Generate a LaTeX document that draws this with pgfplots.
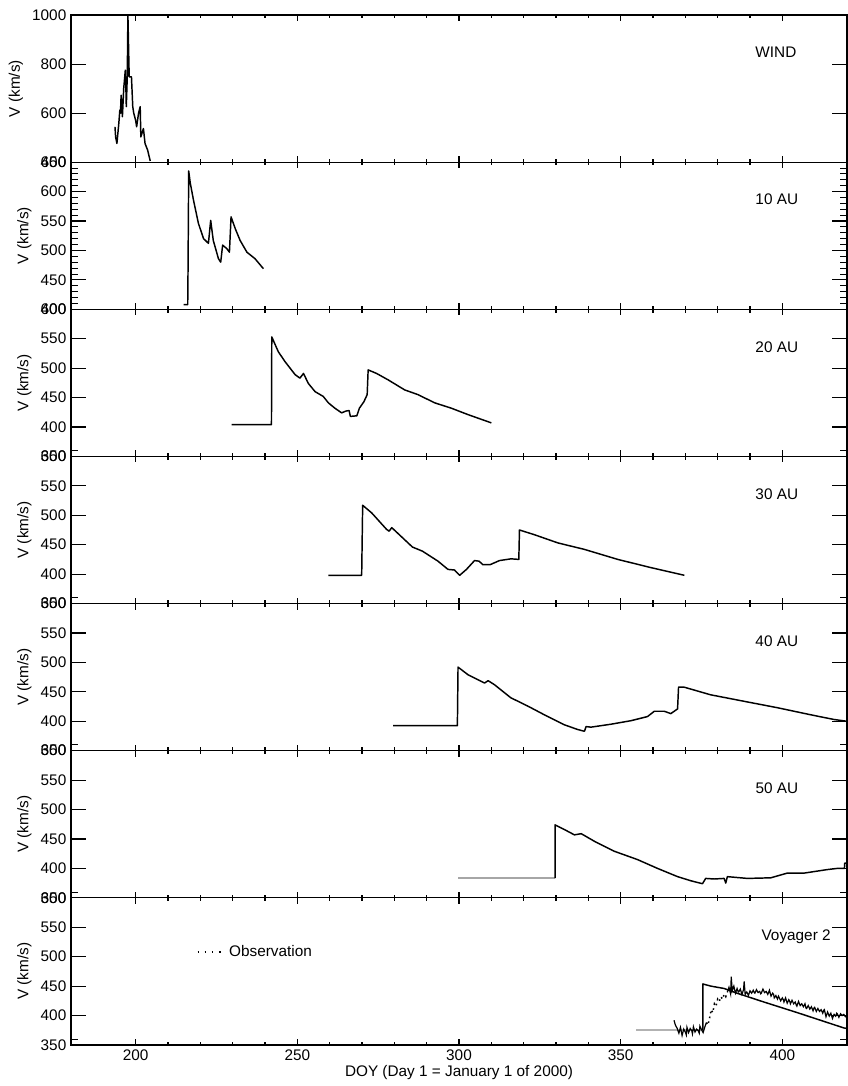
\documentclass[border=0pt]{standalone}
\usepackage{fontspec}
\setmainfont{Liberation Sans}
\usepackage{pgfplots}
\pgfplotsset{compat=1.18}
\newcommand{\fs}{\fontsize{11.5}{13.8}\selectfont}
\newcommand{\yt}[2]{%
 \pgfplotsinvokeforeach{#1}{\draw[line width=0.8pt] (axis cs:180,##1) -- ++(11pt,0pt); \draw[line width=0.8pt] (axis cs:420,##1) -- ++(-11pt,0pt);}%
 \pgfplotsinvokeforeach{#2}{\draw[line width=0.6pt] (axis cs:180,##1) -- ++(5.5pt,0pt); \draw[line width=0.6pt] (axis cs:420,##1) -- ++(-5pt,0pt);}%
}
\newcommand{\stdminor}{360,370,380,390,410,420,430,440,460,470,480,490,510,520,530,540,560,570,580,590}
\pgfplotsset{
 base/.style={
  scale only axis, width=582pt, height=110.36pt,
  xmin=180, xmax=420,
  tick align=inside,
  axis line style={line width=0.9pt},
  every tick/.style={line width=0.8pt, black},
  ticklabel style={font=\fs},
  /pgf/number format/assume math mode=true,
  /pgf/number format/1000 sep={},
  label style={font=\fs},
  anchor=north west,
 },
 data/.style={base, hide axis},
 yover/.style={base, xtick=\empty, clip=false,
  major tick length=11pt, minor tick length=5.5pt,
  ylabel={V (km/s)}},
 xover/.style={base, ymin=0, ymax=1, ytick=\empty,
  xtick={200,250,300,350,400}, minor x tick num=4,
  major tick length=4.5pt, minor tick length=2.5pt, xticklabels={}},
 std/.style={ymin=350, ymax=600, ytick={350,400,450,500,550,600}},
 ln/.style={black, line width=1.1pt, line join=round, mark=none},
}
\begin{document}
\begin{tikzpicture}
\useasboundingbox (0,0) rectangle (636pt,814.5pt);

% ---------- WIND
\begin{axis}[data, at={(53.25pt,803.25pt)}, ymin=400, ymax=1000]
\addplot[ln] coordinates {(193.6,544) (193.8,503) (194.2,476) (194.8,560) (195.1,612) (195.3,600) (195.5,673) (195.9,585) (196.3,700) (196.8,775) (197.0,690) (197.1,626) (197.4,748) (197.6,1000) (198.0,748) (198.7,748) (199.1,626) (199.4,600) (199.7,585) (200.0,570) (200.3,544) (200.9,600) (201.4,626) (201.6,503) (202.4,537) (202.9,476) (203.7,449) (204.5,405)};
\node[anchor=west, font=\fs] at (rel axis cs:0.876,0.745) {WIND};
\end{axis}
\begin{axis}[yover, at={(53.25pt,803.25pt)}, ymin=400, ymax=1000, ytick={400,600,800,1000}]
\yt{600,800}{}
\end{axis}
\begin{axis}[xover, at={(53.25pt,803.25pt)}]\end{axis}

% ---------- 10 AU
\begin{axis}[data, at={(53.25pt,692.9pt)}, ymin=400, ymax=650]
\addplot[ln] coordinates {(214.8,408) (216.1,408) (216.2,470) (216.4,635) (216.9,614) (217.9,585) (219.4,546) (221,520) (222.5,512) (223.2,551) (224,517) (225.6,486) (226.3,480) (226.9,509) (228.2,503) (229,497) (229.5,557) (230.8,537) (232.3,517) (234.4,497) (236.9,486) (239.5,469)};
\node[anchor=west, font=\fs] at (rel axis cs:0.876,0.745) {10 AU};
\end{axis}
\begin{axis}[yover, at={(53.25pt,692.9pt)}, ymin=400, ymax=650, ytick={400,450,500,550,600,650}]
\yt{450,500,550,600}{410,420,430,440,460,470,480,490,510,520,530,540,560,570,580,590,610,620,630,640}
\end{axis}
\begin{axis}[xover, at={(53.25pt,692.9pt)}]\end{axis}

% ---------- 20 AU
\begin{axis}[data, std, at={(53.25pt,582.54pt)}]
\addplot[ln] coordinates {(229.7,404) (242,404) (242.1,553) (244.1,528) (246.2,511) (249.3,489) (250.8,483) (251.9,491) (253.4,474) (255.5,460) (258,452) (259.6,441) (261.6,432) (263.7,424) (265,427) (266,428) (266.4,418) (268.4,419) (269.2,432) (270.6,443) (271.6,455) (271.9,497) (274.5,491) (278.1,480) (283.2,463) (287.3,455) (292.5,441) (297.6,432) (302.8,421) (310,407)};
\node[anchor=west, font=\fs] at (rel axis cs:0.876,0.745) {20 AU};
\end{axis}
\begin{axis}[yover, std, at={(53.25pt,582.54pt)}]
\yt{400,450,500,550}{\stdminor}
\end{axis}
\begin{axis}[xover, at={(53.25pt,582.54pt)}]\end{axis}

% ---------- 30 AU
\begin{axis}[data, std, at={(53.25pt,472.19pt)}]
\addplot[ln] coordinates {(259.6,398) (269.9,398) (270.2,517) (273,504) (277.6,476) (278.4,473) (279.2,479) (282.5,462) (285.6,446) (288.7,439) (293.5,422) (296.6,408) (298.6,407) (300.2,398) (302.3,408) (304.8,423) (306.2,422) (307.4,416) (309.6,416) (312.5,423) (316.1,426) (318.5,425) (318.7,475) (323.3,467) (330.6,453) (338.8,442) (349.1,425) (359.4,411) (369.7,398)};
\node[anchor=west, font=\fs] at (rel axis cs:0.876,0.745) {30 AU};
\end{axis}
\begin{axis}[yover, std, at={(53.25pt,472.19pt)}]
\yt{400,450,500,550}{\stdminor}
\end{axis}
\begin{axis}[xover, at={(53.25pt,472.19pt)}]\end{axis}

% ---------- 40 AU
\begin{axis}[data, std, at={(53.25pt,361.83pt)}]
\addplot[ln] coordinates {(279.6,392.5) (299.5,392.5) (299.7,492) (302.8,479) (307.9,465) (309,469) (311,462) (316,440) (321.2,426) (326.4,411) (332.6,394) (336.7,386) (338.8,383) (339.3,391) (340.8,390) (347,395) (353.2,401) (358.3,408) (360.4,417) (363.5,417) (365.5,413) (367.6,421) (367.9,458) (369.6,458) (377.8,445) (388.1,434) (398.5,423) (408.8,411) (416,403) (420,400)};
\node[anchor=west, font=\fs] at (rel axis cs:0.876,0.745) {40 AU};
\end{axis}
\begin{axis}[yover, std, at={(53.25pt,361.83pt)}]
\yt{400,450,500,550}{\stdminor}
\end{axis}
\begin{axis}[xover, at={(53.25pt,361.83pt)}]\end{axis}

% ---------- 50 AU
\begin{axis}[data, std, at={(53.25pt,251.48pt)}]
\addplot[gray!70, line width=1.4pt] coordinates {(299.7,383.5) (329.7,383.5)};
\addplot[ln] coordinates {(329.7,383.5) (329.7,474) (332.6,466) (335.7,457) (337.8,459) (341.9,446) (348.1,429) (355.2,415) (361.4,400) (367.6,386) (371.7,379) (375.3,374) (376.3,383) (378.9,382) (382,383) (382.5,375) (383,386) (389.2,383) (396.4,384) (401.5,392) (406.7,392) (413.9,398) (417,400) (419.2,400) (419.3,409) (420,409)};
\node[anchor=west, font=\fs] at (rel axis cs:0.876,0.745) {50 AU};
\end{axis}
\begin{axis}[yover, std, at={(53.25pt,251.48pt)}]
\yt{400,450,500,550}{\stdminor}
\end{axis}
\begin{axis}[xover, at={(53.25pt,251.48pt)}]\end{axis}

% ---------- Voyager 2
\begin{axis}[data, std, at={(53.25pt,141.12pt)},
  legend style={at={(0.160,0.633)}, anchor=west, draw=none, fill=none, font=\fs, inner sep=1pt},
  legend cell align=left]
\addplot[gray!60, line width=2pt, forget plot] coordinates {(354.8,375.5) (375.4,375.5)};
\addplot[ln, forget plot] coordinates {(375.4,375.5) (375.4,453.7) (377.9,450) (382,446) (386,438) (394.3,423) (404.6,405) (419,379) (420,378)};
% observation
\addplot[black, line width=0.9pt, forget plot] coordinates {(366.5,392) (366.8,386) (367,383) (367.5,378) (368,370) (368.3,376) (368.5,380) (369,366) (369.5,377) (370,372) (370.3,367) (370.5,380) (371,371) (371.5,378) (372,374) (372.2,369) (372.5,381) (373,372) (373.5,377) (374,374) (374.3,370) (374.5,382) (375,376) (375.5,371) (376,380) (376.5,388)};
\addplot[black, line width=1.1pt, dash pattern=on 1.2pt off 2.5pt,
  legend image code/.code={\draw[line width=1.3pt, dash pattern=on 1.3pt off 4pt] (0pt,0pt) -- (21pt,0pt);}]
  coordinates {(376.5,388) (377,384) (377.5,396) (378,410) (378.5,405) (379,420) (379.5,416) (380,428) (380.5,424) (381,432) (381.5,428) (382,436) (382.5,432) (383,440)};
\addlegendentry{Observation}
\addplot[black, line width=0.9pt, forget plot] coordinates {(383,440) (383.5,448) (384,437) (384.2,466) (384.5,442) (385,450) (385.5,438) (386,446) (386.3,441) (386.5,440) (387,445) (387.5,436) (388,444) (388.2,458) (388.5,436) (389,440) (389.3,437) (389.5,434) (390,442) (390.5,438) (391,443) (391.3,439) (391.5,438) (392,444) (392.5,439) (393,441) (393.3,437) (393.5,438) (394,445) (394.5,439) (395,441) (395.5,436) (395.8,440) (396,443) (396.5,433) (397,438) (397.3,436) (397.5,430) (398,434) (398.5,428) (398.8,433) (399,431) (399.5,425) (400,430) (400.3,427) (400.5,423) (401,430) (401.5,421) (402,427) (402.3,424) (402.5,420) (403,426) (403.5,420) (404,423) (404.3,418) (404.5,416) (405,424) (405.5,417) (406,420) (406.5,415) (407,420) (407.3,413) (407.5,412) (408,417) (408.5,411) (409,415) (409.5,408) (409.8,413) (410,414) (410.5,407) (411,412) (411.5,407) (412,410) (412.5,404) (412.8,409) (413,410) (413.5,398) (414,406) (414.5,399) (415,404) (415.5,395) (416,402) (416.5,399) (416.8,404) (417,403) (417.5,397) (418,403) (418.5,400) (419,402) (419.5,398) (420,401)};
\node[anchor=east, font=\fs] at (rel axis cs:0.985,0.735) {Voyager 2};
\end{axis}
\begin{axis}[yover, std, at={(53.25pt,141.12pt)}]
\yt{400,450,500,550}{\stdminor}
\end{axis}
\begin{axis}[xover, at={(53.25pt,141.12pt)},
  xticklabels={200,250,300,350,400},
  xlabel={DOY (Day 1 = January 1 of 2000)},
  xlabel style={yshift=3pt}]\end{axis}
\end{tikzpicture}
\end{document}
